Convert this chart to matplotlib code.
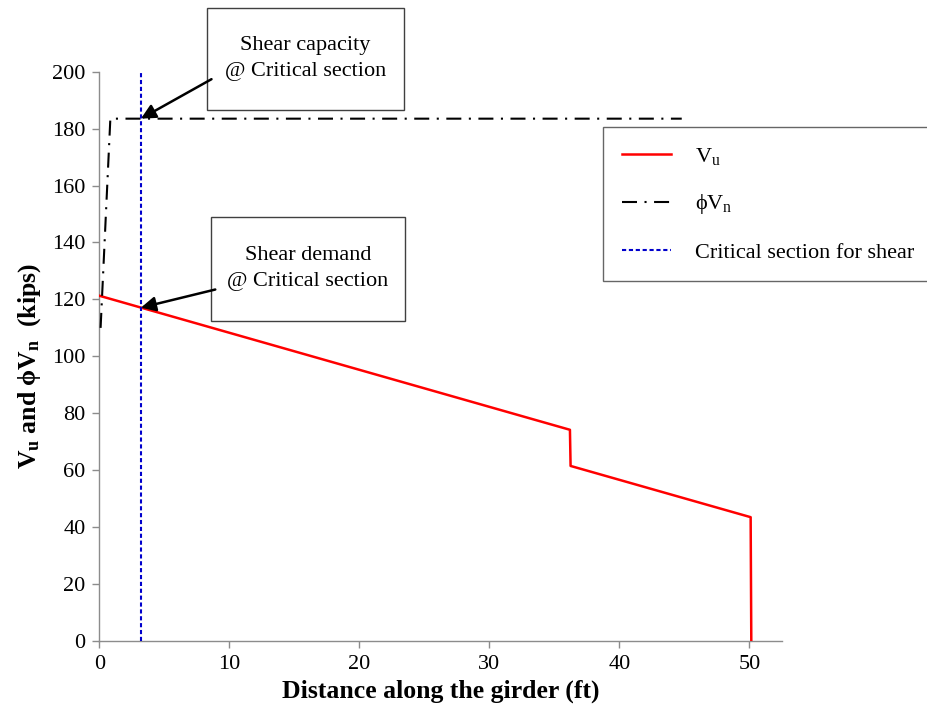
import matplotlib
matplotlib.use("Agg")
import matplotlib.pyplot as plt
from matplotlib.patches import Rectangle
from matplotlib.lines import Line2D

plt.rcParams['font.family'] = ['Liberation Serif', 'DejaVu Serif']
plt.rcParams['mathtext.fontset'] = 'custom'
plt.rcParams['mathtext.rm'] = 'Liberation Serif'
plt.rcParams['mathtext.it'] = 'Liberation Serif:italic'
plt.rcParams['mathtext.bf'] = 'Liberation Serif:bold'

# Factored shear demand along the girder (ft, kips)
vu_x = [0.0, 36.2, 36.25, 50.1, 50.15]
vu_y = [121.3, 74.2, 61.5, 43.5, 0.0]

# Design shear capacity (ft, kips)
phivn_x = [0.1, 0.85, 44.8]
phivn_y = [110.0, 183.5, 183.5]

# Location of the critical section for shear (ft)
crit_x = 3.2
crit_y = [0, 200]

x_ticks = [0, 10, 20, 30, 40, 50]
y_ticks = [0, 20, 40, 60, 80, 100, 120, 140, 160, 180, 200]

W, H = 928, 709
fig = plt.figure(figsize=(W / 100, H / 100), dpi=100)
ax = fig.add_axes([99.3 / W, 1 - 641 / H, (782.5 - 99.3) / W, (641 - 71.7) / H])

axis_grey = '#8c8c8c'
red_style = dict(color='#ff0000', lw=1.8)
phi_style = dict(color='black', lw=1.5, linestyle=(0, (7.2, 3.6, 1.0, 3.6)))
crit_style = dict(color='#0000cc', lw=1.5, linestyle=(0, (2.0, 1.3)))

ax.plot(vu_x, vu_y, zorder=3, **red_style)
ax.plot(phivn_x, phivn_y, zorder=3, **phi_style)
ax.plot([crit_x, crit_x], crit_y, zorder=4, **crit_style)

ax.set_xlim(0, 52.55)
ax.set_ylim(0, 200)
ax.set_xticks(x_ticks)
ax.set_yticks(y_ticks)

for side in ('top', 'right'):
    ax.spines[side].set_visible(False)
for side in ('left', 'bottom'):
    ax.spines[side].set_color(axis_grey)
    ax.spines[side].set_linewidth(1.0)
ax.tick_params(direction='out', length=5, width=1.0, color=axis_grey,
               labelsize=16, labelcolor='black', pad=5)

ax.set_xlabel('Distance along the girder (ft)', fontsize=18.5, fontweight='bold', labelpad=4)
ax.set_ylabel('V$_\\mathbf{u}$ and ϕV$_\\mathbf{n}$  (kips)', fontsize=18.5,
              fontweight='bold')
ax.yaxis.set_label_coords(-0.083, 0.483)

# Callout boxes with arrows
def callout(x0, x1, y0, y1, text, tip):
    ax.add_patch(Rectangle((x0, y0), x1 - x0, y1 - y0, facecolor='white',
                           edgecolor='#404040', lw=1.0, clip_on=False, zorder=5))
    ax.text((x0 + x1) / 2, (y0 + y1) / 2, text, ha='center', va='center',
            fontsize=16, linespacing=1.5, zorder=6, clip_on=False)
    ax.annotate('', xy=tip, xytext=(x0 + 0.35, y0 + (y1 - y0) * 0.3),
                arrowprops=dict(arrowstyle='-|>', color='black', lw=1.8,
                                mutation_scale=22, shrinkA=0, shrinkB=0),
                annotation_clip=False, zorder=6)

callout(8.28, 23.44, 186.6, 222.5, 'Shear capacity\n@ Critical section', (crit_x, 183.5))
callout(8.57, 23.5, 112.5, 149.1, 'Shear demand\n@ Critical section', (crit_x, 117.1))

# Legend
handles = [
    Line2D([], [], **red_style),
    Line2D([], [], **phi_style),
    Line2D([], [], **crit_style),
]
labels = ['V$_\\mathrm{u}$', 'ϕV$_\\mathrm{n}$', 'Critical section for shear']
leg = fig.legend(handles, labels, loc='upper left',
                 bbox_to_anchor=(603 / W, 1 - 127 / H), fontsize=16,
                 frameon=True, fancybox=False, edgecolor='#404040',
                 handlelength=2.2, handletextpad=1.1, labelspacing=1.15,
                 borderpad=0.85, borderaxespad=0)
leg.get_frame().set_linewidth(1.0)

fig.savefig('out.png', dpi=100)
